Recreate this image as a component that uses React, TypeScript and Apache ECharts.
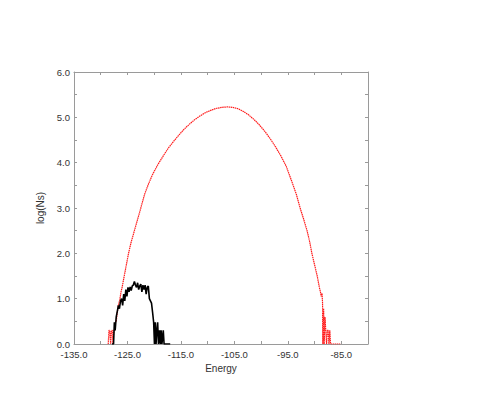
import React, { useEffect, useRef } from "react";
import * as echarts from "echarts";

// Energy axis ticks / labels
const xMin = -135;
const xMax = -80;
const yMin = 0;
const yMax = 6;

// Red series: log(Ns) vs Energy
const redEnergy = [
  -128.6, -128.45, -128.3, -128.15, -128.0, -127.85, -127.7, -127.55, -127.4, -127.25,
  -127.1, -126.9, -126.7, -126.4, -126.2, -126.0, -125.6, -125.2, -124.8, -124.3,
  -123.7, -123.1, -122.5, -121.8, -121.1, -120.3, -119.3, -118.3, -117.3, -116.3,
  -115.3, -114.3, -113.3, -112.3, -111.3, -110.3, -109.3, -108.3, -107.3, -106.3,
  -105.3, -104.3, -103.3, -102.3, -101.3, -100.3, -99.3, -98.3, -97.3, -96.3,
  -95.3, -94.3, -93.4, -92.7, -92.0, -91.4, -90.9, -90.5, -90.0, -89.5,
  -89.1, -88.9, -88.75, -88.6, -88.5, -88.45, -88.3, -88.2, -88.05, -87.9,
  -87.75, -87.6, -87.45, -87.3, -87.15, -87.0, -86.5, -86.0, -85.5, -85.2,
];
const redLog = [
  0, 0.3, 0.3, 0, 0.3, 0.3, 0, 0.3, 0.3, 0.48,
  0.5, 0.7, 0.85, 1.0, 1.15, 1.25, 1.5, 1.75, 2.0, 2.25,
  2.5, 2.75, 3.0, 3.3, 3.52, 3.74, 3.96, 4.15, 4.33, 4.48,
  4.62, 4.75, 4.86, 4.96, 5.04, 5.11, 5.16, 5.2, 5.22, 5.23,
  5.22, 5.19, 5.13, 5.05, 4.95, 4.83, 4.69, 4.53, 4.35, 4.15,
  3.92, 3.6, 3.3, 3.0, 2.74, 2.5, 2.25, 2.0, 1.75, 1.5,
  1.25, 1.15, 1.05, 1.12, 0.9, 0, 0.78, 0, 0.6, 0.3,
  0, 0.3, 0.3, 0, 0.3, 0, 0, 0, 0, 0,
];

// Black series: log(Ns) vs Energy
const blackEnergy = [
  -127.9, -127.6, -127.45, -127.3, -127.1, -126.9, -126.7, -126.5, -126.3, -126.1,
  -125.9, -125.7, -125.5, -125.3, -125.1, -124.9, -124.7, -124.5, -124.3, -124.1,
  -123.9, -123.7, -123.5, -123.3, -123.1, -122.9, -122.7, -122.5, -122.3, -122.1,
  -121.9, -121.7, -121.5, -121.3, -121.1, -120.9, -120.7, -120.5, -120.3, -120.1,
  -119.95, -119.8, -119.65, -119.5, -119.35, -119.2, -119.0, -118.85, -118.7, -118.55,
  -118.3, -118.15, -117.0,
];
const blackLog = [
  0, 0, 0.48, 0.3, 0.6, 0.72, 0.85, 0.78, 0.95, 1.0,
  0.85, 1.1, 0.95, 1.2, 1.05, 1.25, 1.15, 1.26, 1.18, 1.28,
  1.3, 1.38, 1.3, 1.25, 1.35, 1.2, 1.28, 1.32, 1.15, 1.3,
  1.2, 1.3, 1.1, 1.25, 1.28, 1.0, 0.95, 0.9, 0.7, 0.48,
  0, 0.48, 0, 0.3, 0.48, 0, 0.3, 0, 0.3, 0,
  0.3, 0, 0,
];

const FONT = "'Liberation Sans', Arial, sans-serif";
const AXIS_COLOR = "#9a9a9a";
const TEXT_COLOR = "#333";

export default function App() {
  const ref = useRef<HTMLDivElement>(null);
  useEffect(() => {
    document.body.style.margin = "0";
    if (!ref.current) return;
    const chart = echarts.init(ref.current, null, { renderer: "svg" });
    const red = redEnergy.map((e, i) => [e, redLog[i]]);
    const black = blackEnergy.map((e, i) => [e, blackLog[i]]);
    const xCommon = {
      type: "value" as const,
      min: xMin,
      max: xMax,
      interval: 5,
      splitLine: { show: false },
      axisLine: { show: true, onZero: false, lineStyle: { color: AXIS_COLOR, width: 1 } },
      axisTick: { show: true, inside: true, length: 3, lineStyle: { color: AXIS_COLOR } },
    };
    const yCommon = {
      type: "value" as const,
      min: yMin,
      max: yMax,
      interval: 0.5,
      splitLine: { show: false },
      axisLine: { show: true, onZero: false, lineStyle: { color: AXIS_COLOR, width: 1 } },
      axisTick: { show: true, inside: true, length: 3, lineStyle: { color: AXIS_COLOR } },
    };
    chart.setOption({
      animation: false,
      backgroundColor: "#fff",
      grid: { left: 74, right: 117, top: 72, bottom: 71, containLabel: false },
      xAxis: [
        {
          ...xCommon,
          position: "bottom",
          name: "Energy",
          nameLocation: "middle",
          nameGap: 17,
          nameTextStyle: { color: TEXT_COLOR, fontFamily: FONT, fontSize: 10 },
          axisLabel: {
            show: true,
            margin: 5,
            color: TEXT_COLOR,
            fontFamily: FONT,
            fontSize: 9.5,
            showMaxLabel: false,
            formatter: (v: number) =>
              Math.round(v - xMin) % 10 === 0 ? v.toFixed(1) : "",
          },
        },
        {
          ...xCommon,
          position: "top",
          axisLabel: { show: false },
        },
      ],
      yAxis: [
        {
          ...yCommon,
          position: "left",
          name: "log(Ns)",
          nameLocation: "middle",
          nameGap: 24,
          nameRotate: 90,
          nameTextStyle: { color: TEXT_COLOR, fontFamily: FONT, fontSize: 10 },
          axisLabel: {
            show: true,
            margin: 4,
            color: TEXT_COLOR,
            fontFamily: FONT,
            fontSize: 9.5,
            formatter: (v: number) =>
              Math.abs(v - Math.round(v)) < 1e-6 ? v.toFixed(1) : "",
          },
        },
        {
          ...yCommon,
          position: "right",
          axisLabel: { show: false },
        },
      ],
      series: [
        {
          type: "line",
          xAxisIndex: 0,
          yAxisIndex: 0,
          data: red,
          showSymbol: false,
          symbol: "none",
          lineStyle: { color: "#ff1a1a", width: 1.2, type: [1.5, 0.6] },
          z: 2,
        },
        {
          type: "line",
          xAxisIndex: 0,
          yAxisIndex: 0,
          data: black,
          showSymbol: false,
          symbol: "none",
          lineStyle: { color: "#000", width: 1.6 },
          z: 3,
        },
      ],
    });
    return () => chart.dispose();
  }, []);
  return <div ref={ref} style={{ width: 485, height: 415 }} />;
}
